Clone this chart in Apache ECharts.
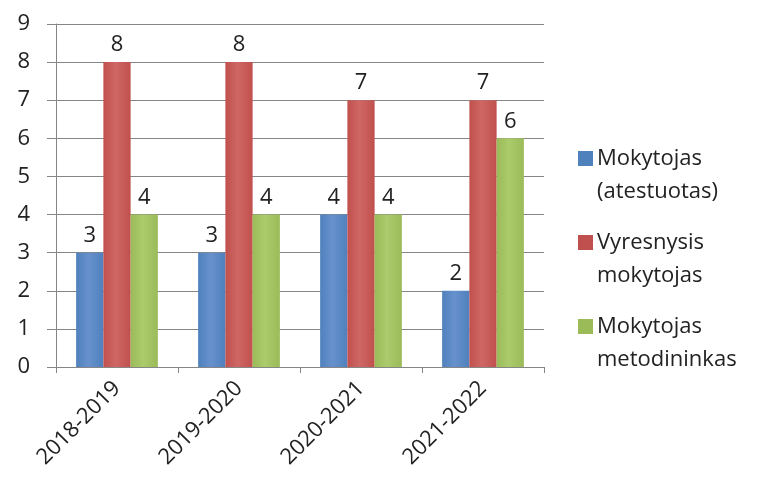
<!DOCTYPE html>
<html><head><meta charset="utf-8">
<script src="https://cdn.jsdelivr.net/npm/echarts@6/dist/echarts.min.js"></script>
<style>html,body{margin:0;padding:0;background:#fff}#c{width:759px;height:494px}</style>
</head><body><div id="c"></div>
<script>
const categories = ['2018-2019', '2019-2020', '2020-2021', '2021-2022'];
const seriesNames = ['Mokytojas\n(atestuotas)', 'Vyresnysis\nmokytojas', 'Mokytojas\nmetodininkas'];
const atestuotas = [3, 3, 4, 2];
const vyresnysis = [8, 8, 7, 7];
const metodininkas = [4, 4, 4, 6];
const yTicks = [0, 1, 2, 3, 4, 5, 6, 7, 8, 9];

const colors = ['#4F81BD', '#C0504D', '#9BBB59'];
const lights = ['#6791CC', '#CF6764', '#ABCB6C'];
function grad(i) {
  return new echarts.graphic.LinearGradient(0, 0, 1, 0, [
    {offset: 0, color: colors[i]},
    {offset: 0.45, color: lights[i]},
    {offset: 1, color: colors[i]}
  ]);
}
const font = '"Open Sans", sans-serif';
const values = [atestuotas, vyresnysis, metodininkas];
const chart = echarts.init(document.getElementById('c'));
chart.setOption({
  animation: false,
  textStyle: {fontFamily: font},
  grid: {left: 56, top: 24, right: 215, bottom: 127},
  legend: {
    orient: 'vertical', left: 573, top: 137,
    itemWidth: 15, itemHeight: 48, itemGap: 18,
    icon: 'path://M0,0h15v15h-15z M0,47.99h0.01v0.01h-0.01z',
    textStyle: {fontSize: 22, color: '#222', lineHeight: 33, fontFamily: font, padding: [0, 0, 0, -1]},
    data: seriesNames.map((n, i) => ({name: n, itemStyle: {color: colors[i]}}))
  },
  xAxis: {
    type: 'category', data: categories,
    axisLine: {lineStyle: {color: '#868686'}},
    axisTick: {show: true, length: 6, lineStyle: {color: '#868686'}},
    axisLabel: {rotate: 45, fontSize: 22, color: '#222', margin: 18, fontFamily: font}
  },
  yAxis: {
    type: 'value', min: yTicks[0], max: yTicks[yTicks.length - 1], interval: 1,
    axisLine: {show: true, lineStyle: {color: '#868686'}},
    axisTick: {show: true, length: 9, lineStyle: {color: '#868686'}},
    splitLine: {lineStyle: {color: '#868686'}},
    axisLabel: {fontSize: 22, color: '#222', margin: 26, fontFamily: font}
  },
  series: values.map((v, i) => ({
    type: 'bar', name: seriesNames[i], data: v,
    barGap: '0%', barCategoryGap: '33%',
    itemStyle: {color: grad(i)},
    label: {show: true, position: 'top', distance: 6, fontSize: 22, color: '#222', fontFamily: font}
  }))
});
</script></body></html>
